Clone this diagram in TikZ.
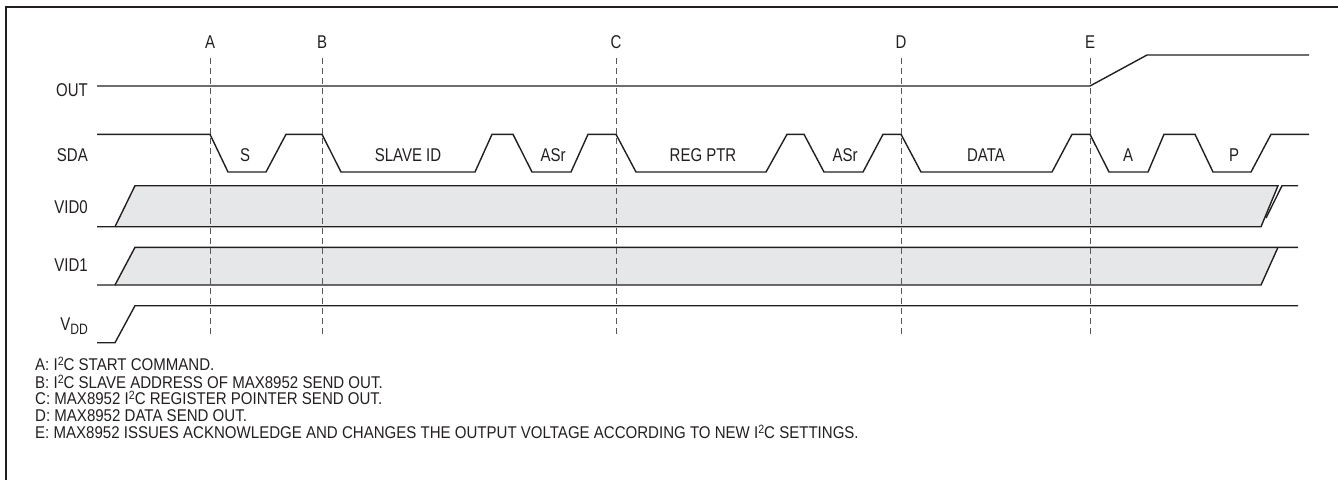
\documentclass[tikz,border=0pt]{standalone}
\usepackage{fontspec}
\setmainfont{Liberation Sans}[FakeStretch=0.81]
\newfontfamily\notefont{Liberation Sans}[FakeStretch=0.885]
\definecolor{cellgray}{HTML}{E6E7E8}
\definecolor{sigcol}{HTML}{231F20}
\begin{document}
\begin{tikzpicture}[x=1pt,y=-1pt,
  sig/.style={line width=1.4pt, draw=sigcol, line join=miter},
  guide/.style={line width=1pt, draw=black!65, dash pattern=on 6pt off 4pt},
  frame/.style={line width=2.6pt, draw=sigcol},
  lbl/.style={font=\fontsize{18.5}{19}\selectfont, text=sigcol, inner sep=0pt},
  note/.style={font=\notefont\fontsize{17}{17}\selectfont, text=sigcol, inner sep=0pt, anchor=west},
  busfill/.style={fill=cellgray}]
\useasboundingbox (0,0) rectangle (1338,480);
% frame
\draw[frame] (6,480) -- (6,7) -- (1338,7);

% signal labels
\node[lbl, anchor=east] (lout) at (88,90) {OUT};
\node[lbl, anchor=east] (lsda) at (88,155) {SDA};
\node[lbl, anchor=east] (lvid0) at (88,207) {VID0};
\node[lbl, anchor=east] (lvid1) at (88,265) {VID1};
\node[lbl, anchor=east] (lvdd) at (88,326) {V\raisebox{-0.35ex}{\fontsize{15}{15}\selectfont DD}};

% VID0
\fill[busfill] (115,226.7) -- (135,185.7) -- (1278,185.7) -- (1261,226.7) -- cycle;
\draw[sig] (97,226.7) -- (115,226.7) -- (135,185.7) -- (1278,185.7) -- (1261,226.7) -- (115,226.7);
\draw[sig] (1266,218) -- (1282,185.7) -- (1298,185.7);
% VID1
\fill[busfill] (115,285) -- (135,247.3) -- (1278,247.3) -- (1261,285) -- cycle;
\draw[sig] (97,285) -- (115,285) -- (135,247.3) -- (1298,247.3);
\draw[sig] (1278,247.3) -- (1261,285) -- (115,285);
% VDD
\draw[sig] (97,342.7) -- (115,342.7) -- (135,305.7) -- (1298,305.7);
% OUT
\draw[sig] (97,86) -- (1090,86) -- (1147,55) -- (1309,55);
% SDA
\draw[sig] (97,134.3) -- (210,134.3) -- (228,172) -- (266,172) -- (286,134.3)
  -- (322,134.3) -- (341,172) -- (475,172) -- (492,134.3)
  -- (513,134.3) -- (532,172) -- (571,172) -- (588,134.3)
  -- (616,134.3) -- (636,172) -- (766,172) -- (787,134.3)
  -- (804,134.3) -- (824,172) -- (863,172) -- (883,134.3)
  -- (901,134.3) -- (921,172) -- (1052,172) -- (1072,134.3)
  -- (1090,134.3) -- (1109,172) -- (1148,172) -- (1164,134.3)
  -- (1195,134.3) -- (1213,172) -- (1251,172) -- (1271,134.3)
  -- (1309,134.3);
\node[lbl] (sS) at (245,155) {S};
\node[lbl] (sSID) at (408,155) {SLAVE ID};
\node[lbl] (sASr1) at (553,155) {ASr};
\node[lbl] (sREG) at (703,155) {REG PTR};
\node[lbl] (sASr2) at (845,155) {ASr};
\node[lbl] (sDATA) at (986,155) {DATA};
\node[lbl] (sA) at (1128,155) {A};
\node[lbl] (sP) at (1234,155) {P};

% event markers
\foreach \n/\x in {A/210,B/322,C/616,D/901,E/1090}{
  \node[lbl] (m\n) at (\x,42) {\n};
  \coordinate (t\n) at (\x,58);
  \coordinate (b\n) at (\x,335);
  \draw[guide] (t\n) -- (b\n);
}

% notes
\newcommand{\sqr}{\smash{\raisebox{0.55ex}{\fontsize{12}{12}\selectfont 2}}}
\node[note] (n1) at (35,365) {A: I\sqr C START COMMAND.};
\node[note] (n2) at (35,382.3) {B: I\sqr C SLAVE ADDRESS OF MAX8952 SEND OUT.};
\node[note] (n3) at (35,399) {C: MAX8952 I\sqr C REGISTER POINTER SEND OUT.};
\node[note] (n4) at (35,415.7) {D: MAX8952 DATA SEND OUT.};
\node[note] (n5) at (35,432.3) {E: MAX8952 ISSUES ACKNOWLEDGE AND CHANGES THE OUTPUT VOLTAGE ACCORDING TO NEW I\sqr C SETTINGS.};
\end{tikzpicture}
\end{document}
